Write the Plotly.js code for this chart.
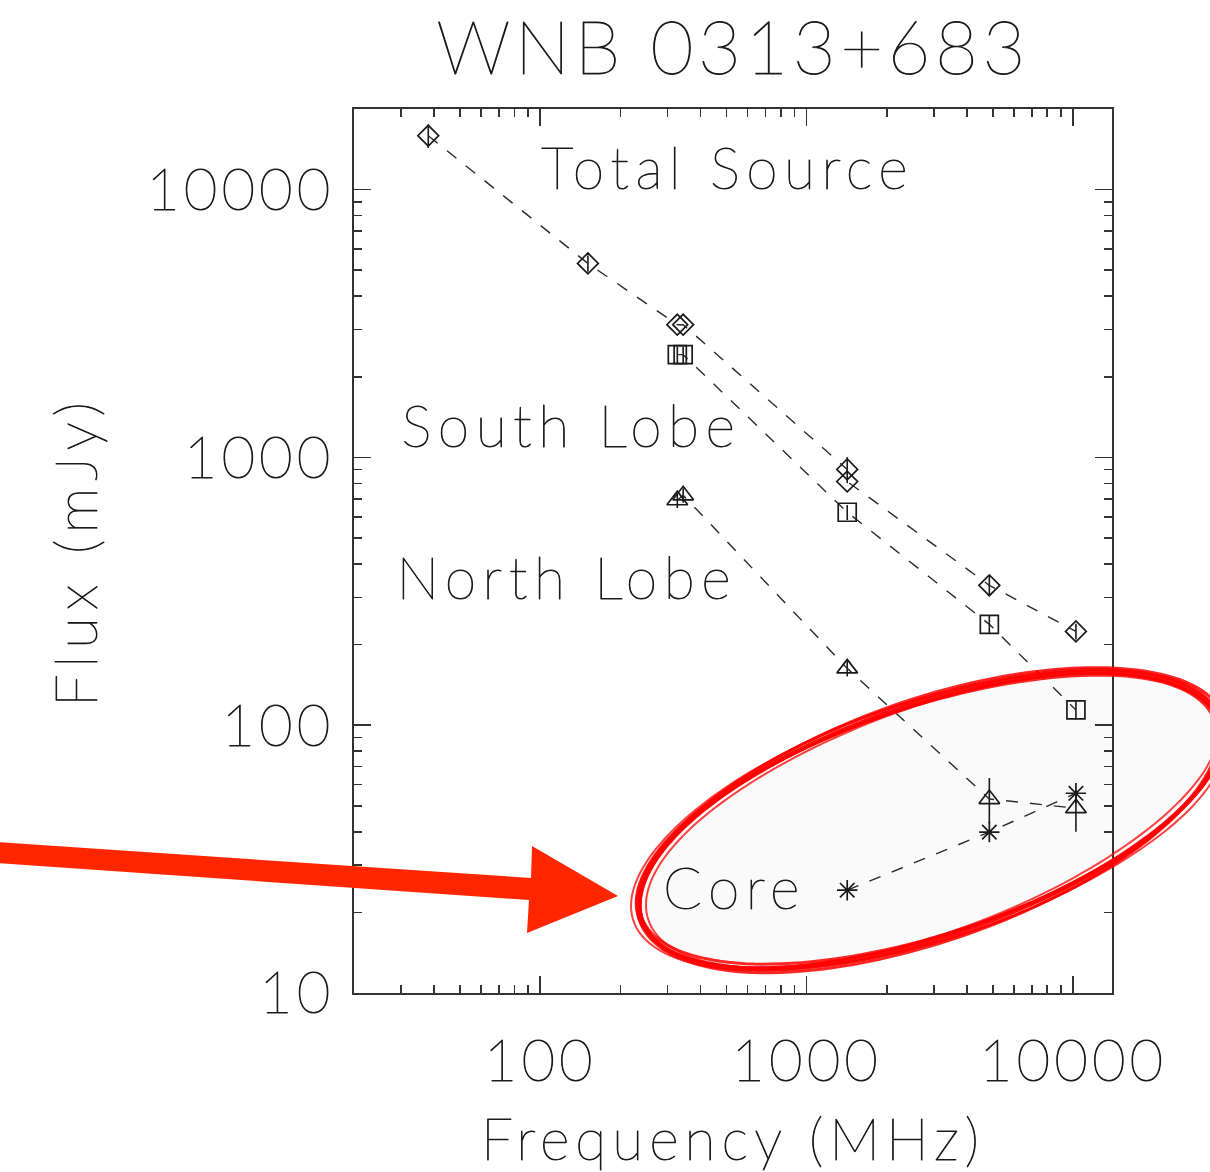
<!DOCTYPE html>
<html>
<head>
<meta charset="utf-8">
<script src="https://cdn.plot.ly/plotly-3.0.1.min.js"></script>
<style>
  html, body { margin: 0; padding: 0; background: #fff; }
  #chart { width: 1210px; height: 1172px; }
  /* wide, even letter spacing and a fine pen line for the plot lettering */
  .main-svg .gtitle { letter-spacing: 4.5px; }
  .main-svg .annotation-text { letter-spacing: 6.5px; }
  .main-svg .xtick text, .main-svg .ytick text { letter-spacing: 4px; }
  .main-svg .xtitle { letter-spacing: 6px; }
  .main-svg .ytitle { letter-spacing: 7px; }
  .main-svg .gtitle, .main-svg .annotation-text, .main-svg .xtick text,
  .main-svg .ytick text, .main-svg .xtitle, .main-svg .ytitle {
    stroke: #1a1a1a; stroke-width: 0.9px; stroke-linejoin: round;
  }
</style>
</head>
<body>
<div id="chart"></div>
<script>
// Radio spectrum of WNB 0313+683: flux density (mJy) against frequency (MHz)

// Total source
const freqTotal = [38, 151, 327, 344, 1420, 1420, 4850, 10250];
const fluxTotal = [15900, 5300, 3130, 3130, 902, 813, 333, 224];
const errTotal  = [1600, 370, 0, 0, 100, 0, 30, 15];

// South lobe
const freqSouth = [327, 344, 1420, 4850, 10250];
const fluxSouth = [2420, 2420, 624, 238, 114];
const errSouth  = [170, 170, 40, 19, 9];

// North lobe
const freqNorth = [327, 344, 1420, 4850, 10250];
const fluxNorth = [692, 722, 163, 53, 49];
const errNorthUp   = [45, 45, 11, 10.5, 8];
const errNorthDown = [45, 45, 11, 10, 9];

// Core
const freqCore = [1420, 4850, 10250];
const fluxCore = [24.2, 39.9, 55.7];

// Axis ticks
const xMajor = [100, 1000, 10000];
const xMajorText = ['100', '1000', '10000'];
const yMajor = [10, 100, 1000, 10000];
const yMajorText = ['10', '100', '1000', '10000'];

const FONT = 'Lato, "DejaVu Sans", sans-serif';
const WEIGHT = 200;
const INK = '#1a1a1a';

// minor ticks at 2..9 times each decade inside the range
function minorTicks(lo, hi) {
  const out = [];
  for (let d = Math.pow(10, Math.floor(Math.log10(lo))); d < hi; d *= 10) {
    for (let k = 2; k <= 9; k++) {
      const v = k * d;
      if (v > lo && v < hi) out.push(v);
    }
  }
  return out;
}

const X_LO = 20, X_HI = 14000, Y_LO = 10, Y_HI = 20000;

function series(x, y, symbol, size, err, errMinus) {
  const t = {
    x: x, y: y, type: 'scatter', mode: 'lines+markers',
    line: { color: '#2a2a2a', width: 1.4, dash: '12px,12px' },
    marker: { symbol: symbol, size: size, color: INK, line: { color: INK, width: 1.7 } },
    hoverinfo: 'x+y', showlegend: false, cliponaxis: false
  };
  if (err) {
    t.error_y = { type: 'data', array: err, visible: true, width: 0, thickness: 1.6, color: INK };
    if (errMinus) { t.error_y.symmetric = false; t.error_y.arrayminus = errMinus; }
  }
  return t;
}

const traces = [
  series(freqTotal, fluxTotal, 'diamond-open', 16, errTotal),
  series(freqSouth, fluxSouth, 'square-open', 18, errSouth),
  series(freqNorth, fluxNorth, 'triangle-up-open', 18, errNorthUp, errNorthDown),
  series(freqCore, fluxCore, 'asterisk-open', 17, null)
];

// plot-area geometry in pixels (used for the hand-drawn overlay)
const W = 1210, H = 1172;
const M = { l: 354, r: 98, t: 109, b: 179 };
const PW = W - M.l - M.r, PH = H - M.t - M.b;
const px2x = px => (px - M.l) / PW;
const px2y = py => (H - M.b - py) / PH;

// rotated ellipse outline as an SVG path in paper units
function ellipsePath(cx, cy, a, b, degrees, wobble, phase) {
  const th = degrees * Math.PI / 180;
  const n = 160;
  let d = '';
  for (let i = 0; i <= n; i++) {
    const t = (i / n) * 2 * Math.PI;
    const aa = a + wobble * Math.sin(3 * t + phase);
    const bb = b + wobble * 0.6 * Math.cos(2 * t + 1.3 * phase);
    const px = cx + aa * Math.cos(t) * Math.cos(th) + bb * Math.sin(t) * Math.sin(th);
    const py = cy - aa * Math.cos(t) * Math.sin(th) + bb * Math.sin(t) * Math.cos(th);
    d += (i === 0 ? 'M' : 'L') + px2x(px).toFixed(5) + ',' + px2y(py).toFixed(5);
  }
  return d + 'Z';
}

const EC = { x: 930, y: 820, a: 306, b: 116, rot: 19 };
const shapes = [];
shapes.push({
  type: 'path', xref: 'paper', yref: 'paper', layer: 'below',
  path: ellipsePath(EC.x, EC.y, EC.a, EC.b, EC.rot, 0, 0),
  fillcolor: 'rgba(0,0,0,0.018)', line: { width: 0 }
});
// several overlapping pen strokes for a marker-pen look
const strokes = [
  { da: 0, db: 0, dr: 0.0, w: 4.5, wob: 1.5, ph: 0.7, c: 'rgba(255,0,0,0.95)' },
  { da: 3, db: 3, dr: 0.4, w: 3.0, wob: 2.0, ph: 2.1, c: 'rgba(255,0,0,0.85)' },
  { da: -3, db: -2, dr: -0.3, w: 3.0, wob: 1.8, ph: 4.0, c: 'rgba(255,0,0,0.85)' },
  { da: 5, db: 4, dr: -0.5, w: 2.0, wob: 2.5, ph: 5.2, c: 'rgba(255,0,0,0.75)' },
  { da: -5, db: -4, dr: 0.6, w: 2.0, wob: 2.2, ph: 1.4, c: 'rgba(255,0,0,0.75)' },
  { da: 1, db: 2, dr: 0.2, w: 2.5, wob: 3.0, ph: 3.3, c: 'rgba(255,0,0,0.85)' },
  { da: -1, db: -1, dr: -0.15, w: 2.5, wob: 2.6, ph: 0.2, c: 'rgba(255,0,0,0.85)' }
];
strokes.forEach(s => {
  shapes.push({
    type: 'path', xref: 'paper', yref: 'paper', layer: 'above',
    path: ellipsePath(EC.x, EC.y, EC.a + s.da, EC.b + s.db, EC.rot + s.dr, s.wob, s.ph),
    line: { color: s.c, width: s.w }
  });
});

// pointer arrow
const arrowPts = [[-5, 842], [531, 878], [532, 846], [618, 896], [527, 933], [529, 900], [-5, 863]];
shapes.push({
  type: 'path', xref: 'paper', yref: 'paper', layer: 'above',
  path: arrowPts.map((p, i) => (i ? 'L' : 'M') + px2x(p[0]).toFixed(5) + ',' + px2y(p[1]).toFixed(5)).join('') + 'Z',
  fillcolor: '#ff2600', line: { width: 0 }
});

function label(text, pxCenter, pyMid) {
  return {
    text: text, xref: 'paper', yref: 'paper', x: px2x(pxCenter), y: px2y(pyMid),
    xanchor: 'center', yanchor: 'middle', showarrow: false,
    font: { family: FONT, size: 57, color: INK, weight: WEIGHT }
  };
}

const axisCommon = {
  type: 'log', showgrid: false, zeroline: false,
  showline: true, linecolor: '#333', linewidth: 2, mirror: 'ticks',
  ticks: 'inside', ticklen: 17, tickwidth: 1.6, tickcolor: '#333',
  tickmode: 'array',
  tickfont: { family: FONT, size: 58, color: INK, weight: WEIGHT }
};

const layout = {
  width: W, height: H,
  margin: M,
  paper_bgcolor: '#fff', plot_bgcolor: 'rgba(0,0,0,0)',
  showlegend: false,
  title: {
    text: 'WNB 0313+683', xref: 'paper', x: 0.5, xanchor: 'center',
    yref: 'container', y: 1 - 48 / H, yanchor: 'middle',
    font: { family: FONT, size: 74, color: INK, weight: WEIGHT }
  },
  xaxis: Object.assign({}, axisCommon, {
    range: [Math.log10(X_LO), Math.log10(X_HI)],
    tickvals: xMajor, ticktext: xMajorText,
    ticklabelstandoff: 16,
    minor: { tickmode: 'array', tickvals: minorTicks(X_LO, X_HI), ticks: 'inside', ticklen: 8, tickwidth: 1.6, tickcolor: '#333', showgrid: false },
    title: { text: 'Frequency (MHz)', standoff: 32, font: { family: FONT, size: 57, color: INK, weight: WEIGHT } }
  }),
  yaxis: Object.assign({}, axisCommon, {
    range: [Math.log10(Y_LO), Math.log10(Y_HI)],
    tickvals: yMajor, ticktext: yMajorText,
    ticklabelstandoff: 6,
    minor: { tickmode: 'array', tickvals: minorTicks(Y_LO, Y_HI), ticks: 'inside', ticklen: 8, tickwidth: 1.6, tickcolor: '#333', showgrid: false },
    title: { text: 'Flux (mJy)', standoff: 50, font: { family: FONT, size: 58, color: INK, weight: WEIGHT } }
  }),
  annotations: [
    label('Total Source', 727, 167),
    label('South Lobe', 571, 425),
    label('North Lobe', 567, 577),
    label('Core', 734, 887)
  ],
  shapes: shapes
};

Plotly.newPlot('chart', traces, layout, { displayModeBar: false, staticPlot: true });
</script>
</body>
</html>
